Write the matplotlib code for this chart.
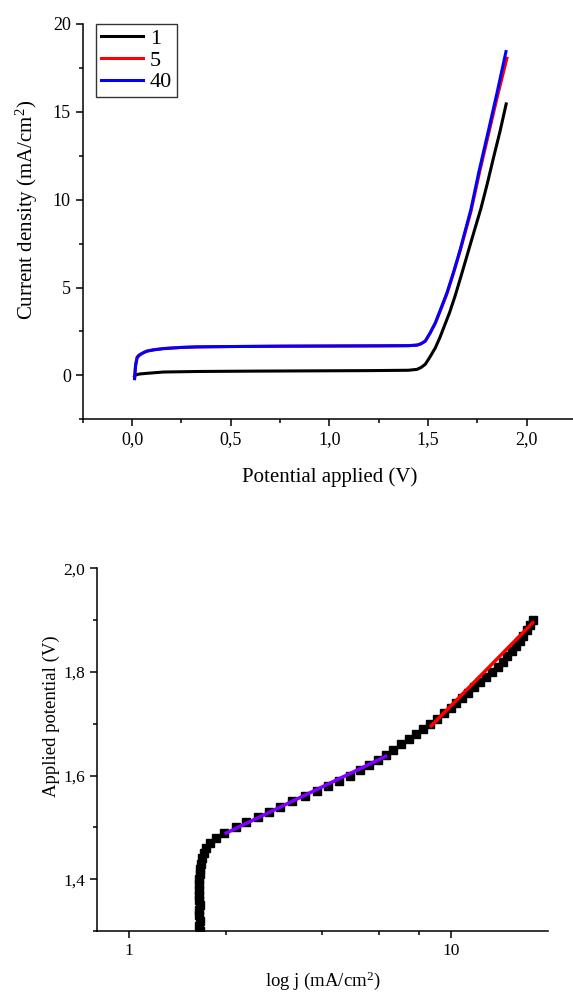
import matplotlib
matplotlib.use('Agg')
import matplotlib.pyplot as plt
from matplotlib.ticker import FuncFormatter, MultipleLocator, FixedLocator, NullFormatter

plt.rcParams['font.family'] = ['Liberation Serif', 'DejaVu Serif']
plt.rcParams['mathtext.default'] = 'regular'

# --- LSV curves (top panel) ---
v_1 = [0.013, 0.02, 0.04, 0.08, 0.16, 0.33, 0.6, 1.0, 1.2, 1.4, 1.444, 1.465, 1.486, 1.51,
       1.537, 1.56, 1.579, 1.61, 1.638, 1.67, 1.705, 1.735, 1.768, 1.8, 1.832, 1.865, 1.896]
j_1 = [-0.05, 0.03, 0.08, 0.12, 0.19, 0.22, 0.24, 0.26, 0.27, 0.29, 0.34, 0.45, 0.63, 1.05,
       1.57, 2.15, 2.7, 3.6, 4.55, 5.75, 7.1, 8.25, 9.5, 10.9, 12.4, 13.9, 15.45]

v_5 = [0.013, 0.018, 0.026, 0.035, 0.043, 0.06, 0.077, 0.11, 0.16, 0.25, 0.33, 0.5, 0.75, 1.0,
       1.26, 1.40, 1.444, 1.465, 1.486, 1.51, 1.537, 1.565, 1.596, 1.63, 1.663, 1.69, 1.717,
       1.76, 1.807, 1.85, 1.9]
j_5 = [-0.15, 0.62, 1.05, 1.15, 1.21, 1.31, 1.39, 1.46, 1.53, 1.59, 1.62, 1.64, 1.66, 1.67,
       1.68, 1.69, 1.72, 1.8, 1.95, 2.4, 2.97, 3.75, 4.65, 5.85, 7.1, 8.2, 9.3, 11.5, 13.75,
       15.8, 18.05]

v_40 = [0.013, 0.018, 0.026, 0.035, 0.043, 0.06, 0.077, 0.11, 0.16, 0.25, 0.33, 0.5, 0.75, 1.0,
        1.26, 1.40, 1.444, 1.465, 1.486, 1.51, 1.537, 1.565, 1.596, 1.63, 1.663, 1.69, 1.717,
        1.76, 1.807, 1.85, 1.895]
j_40 = [-0.19, 0.53, 1.0, 1.12, 1.19, 1.3, 1.38, 1.45, 1.52, 1.59, 1.62, 1.64, 1.66, 1.67,
        1.68, 1.69, 1.72, 1.8, 1.95, 2.4, 2.99, 3.8, 4.7, 5.9, 7.16, 8.3, 9.43, 11.7, 13.98,
        16.1, 18.43]

# --- Tafel data (bottom panel) ---
tafel_v = [1.30, 1.31, 1.32, 1.33, 1.34, 1.35, 1.36, 1.37, 1.38, 1.39, 1.40, 1.41, 1.42,
           1.43, 1.44, 1.45, 1.46, 1.47, 1.48, 1.49, 1.50, 1.51, 1.52, 1.53, 1.54, 1.55,
           1.56, 1.57, 1.58, 1.59, 1.60, 1.61, 1.62, 1.63, 1.64, 1.65, 1.66, 1.67, 1.68,
           1.69, 1.70, 1.71, 1.72, 1.73, 1.74, 1.75, 1.76, 1.77, 1.78, 1.79, 1.80, 1.81,
           1.82, 1.83, 1.84, 1.85, 1.86, 1.87, 1.88, 1.89, 1.90]
tafel_j = [1.67, 1.66, 1.67, 1.66, 1.66, 1.67, 1.66, 1.66, 1.66, 1.66, 1.66, 1.67, 1.67,
           1.68, 1.69, 1.71, 1.74, 1.79, 1.87, 1.98, 2.15, 2.32, 2.52, 2.73, 2.96, 3.22,
           3.52, 3.84, 4.17, 4.50, 4.86, 5.22, 5.57, 5.95, 6.30, 6.62, 7.02, 7.42, 7.80,
           8.22, 8.65, 9.05, 9.55, 10.0, 10.4, 10.85, 11.3, 11.8, 12.3, 12.85, 13.4, 14.0,
           14.5, 15.0, 15.5, 15.95, 16.4, 16.8, 17.2, 17.6, 17.97]

fit1_j = [2.01, 6.28]
fit1_v = [1.489, 1.637]
fit2_j = [8.70, 17.97]
fit2_v = [1.696, 1.895]

comma = FuncFormatter(lambda x, pos: ('%.1f' % x).replace('.', ','))

fig = plt.figure(figsize=(5.73, 9.99), dpi=100)

# top panel
ax1 = fig.add_axes([0.1443, 0.5803, 0.861, 0.3957])
ax1.plot(v_1, j_1, color='black', lw=2.2, label='1')
ax1.plot(v_5, j_5, color='red', lw=2.2, label='5')
ax1.plot(v_40, j_40, color='blue', lw=2.2, label='40')
ax1.set_xlim(-0.25, 2.25)
ax1.set_ylim(-2.5, 20)
ax1.xaxis.set_major_locator(MultipleLocator(0.5))
ax1.xaxis.set_minor_locator(MultipleLocator(0.25))
ax1.yaxis.set_major_locator(FixedLocator([0, 5, 10, 15, 20]))
ax1.yaxis.set_minor_locator(FixedLocator([-2.5, 2.5, 7.5, 12.5, 17.5]))
ax1.xaxis.set_major_formatter(comma)
ax1.set_xlabel('Potential applied (V)', fontsize=15, labelpad=14)
ax1.set_ylabel('Current density (mA/cm$^2$)', fontsize=15)
ax1.yaxis.set_label_coords(-0.086, 0.53)
leg = ax1.legend(loc='upper left', bbox_to_anchor=(0.028, 1.0), fontsize=16, frameon=True,
                 fancybox=False, edgecolor='black', handlelength=1.9, handletextpad=0.3,
                 labelspacing=0.05, borderpad=0.2, borderaxespad=0.0)
leg.get_frame().set_linewidth(1.0)

# bottom panel
ax2 = fig.add_axes([0.1698, 0.0681, 0.786, 0.363])
ax2.plot(tafel_j, tafel_v, ls='none', marker='s', ms=5.5, color='black')
ax2.plot(fit1_j, fit1_v, color='#8000ff', lw=2.5)
ax2.plot(fit2_j, fit2_v, color='red', lw=2.5)
ax2.set_xscale('log')
ax2.set_xlim(0.8, 20)
ax2.set_ylim(1.3, 2.0)
ax2.xaxis.set_major_locator(FixedLocator([1, 10]))
ax2.xaxis.set_major_formatter(FuncFormatter(lambda x, pos: '%g' % x))
ax2.xaxis.set_minor_locator(FixedLocator([2, 4, 6, 8]))
ax2.xaxis.set_minor_formatter(NullFormatter())
ax2.yaxis.set_major_locator(MultipleLocator(0.2))
ax2.yaxis.set_minor_locator(MultipleLocator(0.1))
ax2.yaxis.set_major_formatter(comma)
ax2.set_xlabel('log j (mA/cm$^2$)', fontsize=13.5, labelpad=8)
ax2.set_ylabel('Applied potential (V)', fontsize=13.5)
ax2.yaxis.set_label_coords(-0.082, 0.592)

for ax, fs in ((ax1, 13), (ax2, 12.5)):
    for s in ('top', 'right'):
        ax.spines[s].set_visible(False)
    for s in ('left', 'bottom'):
        ax.spines[s].set_linewidth(1.1)
    ax.tick_params(which='major', direction='out', length=5, width=1.1, labelsize=fs)
    ax.tick_params(which='minor', direction='out', length=3, width=1.1)

fig.savefig('out.png', dpi=100)
